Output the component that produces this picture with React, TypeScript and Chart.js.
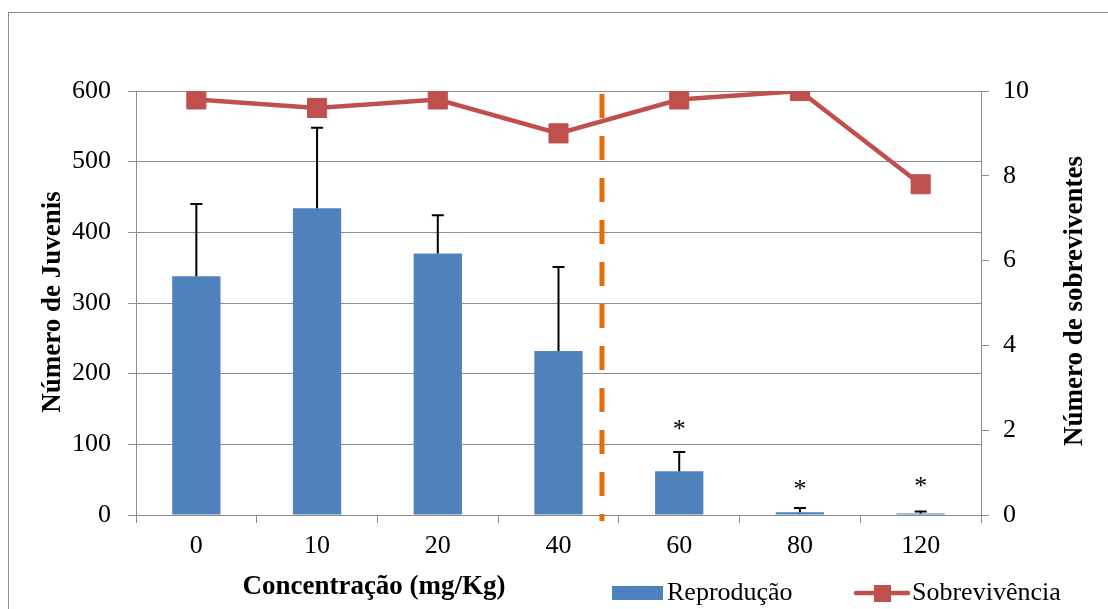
import { useEffect, useRef } from 'react';
import { Chart, registerables } from 'chart.js';

Chart.register(...registerables);

// Concentration groups (mg/Kg)
const categories = ['0', '10', '20', '40', '60', '80', '120'];
// Mean number of juveniles per group
const reproducao = [338, 434, 370, 232, 62, 4, 2];
// Upper error (standard deviation) for the juveniles
const reproducaoErro = [102, 114, 54, 119, 27, 6, 3];
// Number of surviving adults per group
const sobrevivencia = [9.8, 9.6, 9.8, 9.0, 9.8, 10, 7.8];
// Significance markers and the juvenile level of each marker's baseline
const significancia = ['', '', '', '', '*', '*', '*'];
const significanciaNivel = [0, 0, 0, 0, 110, 25, 30];
// Threshold line position, in category units
const limiteCategoria = 3.36;

const leftTicks = [0, 100, 200, 300, 400, 500, 600];
const rightTicks = [0, 2, 4, 6, 8, 10];

const FONT = '"Liberation Serif", "Times New Roman", serif';
const BLUE = '#4F81BD';
const RED = '#C0504D';
const ORANGE = '#E46C0A';
const GRID = '#8C8C8C';

const decorations = {
  id: 'decorations',
  beforeDatasetsDraw(chart: any) {
    const { ctx, chartArea, scales } = chart;
    const x = scales.x;
    const i0 = Math.floor(limiteCategoria);
    const p0 = x.getPixelForValue(i0);
    const p1 = x.getPixelForValue(i0 + 1);
    const px = p0 + (limiteCategoria - i0) * (p1 - p0);
    ctx.save();
    ctx.strokeStyle = ORANGE;
    ctx.lineWidth = 5;
    ctx.setLineDash([24, 18]);
    ctx.beginPath();
    ctx.moveTo(px, chartArea.top + 3);
    ctx.lineTo(px, chartArea.bottom + 6);
    ctx.stroke();
    ctx.restore();
  },
  afterDatasetDraw(chart: any, args: any) {
    if (args.index !== 0) return;
    const { ctx, scales } = chart;
    const y = scales.y;
    const meta = chart.getDatasetMeta(0);
    ctx.save();
    ctx.strokeStyle = '#000';
    ctx.lineWidth = 2;
    meta.data.forEach((bar: any, i: number) => {
      const top = y.getPixelForValue(reproducao[i] + reproducaoErro[i]);
      const base = y.getPixelForValue(reproducao[i]);
      ctx.beginPath();
      ctx.moveTo(bar.x, base);
      ctx.lineTo(bar.x, top);
      ctx.moveTo(bar.x - 6, top);
      ctx.lineTo(bar.x + 6, top);
      ctx.stroke();
    });
    ctx.restore();
  },
  afterDraw(chart: any) {
    const { ctx, scales } = chart;
    const x = scales.x;
    const y = scales.y;
    ctx.save();

    // significance asterisks
    ctx.fillStyle = '#000';
    ctx.font = `26px ${FONT}`;
    ctx.textAlign = 'center';
    ctx.textBaseline = 'alphabetic';
    significancia.forEach((s, i) => {
      if (!s) return;
      ctx.fillText(s, x.getPixelForValue(i), y.getPixelForValue(significanciaNivel[i]));
    });

    // axis titles
    ctx.textBaseline = 'middle';
    ctx.font = `bold 27px ${FONT}`;
    ctx.fillText('Concentração (mg/Kg)', 374, 587);

    ctx.save();
    ctx.translate(53, 302);
    ctx.rotate(-Math.PI / 2);
    ctx.fillText('Número de Juvenis', 0, 0);
    ctx.restore();

    ctx.save();
    ctx.translate(1075, 301);
    ctx.rotate(-Math.PI / 2);
    ctx.fillText('Número de sobreviventes', 0, 0);
    ctx.restore();

    // legend
    ctx.fillStyle = BLUE;
    ctx.fillRect(612, 586, 51, 14);
    ctx.fillStyle = '#000';
    ctx.font = `26px ${FONT}`;
    ctx.textAlign = 'left';
    ctx.fillText('Reprodução', 667, 593);

    ctx.strokeStyle = RED;
    ctx.lineWidth = 4.5;
    ctx.lineCap = 'round';
    ctx.beginPath();
    ctx.moveTo(856, 593);
    ctx.lineTo(908, 593);
    ctx.stroke();
    ctx.fillStyle = RED;
    ctx.fillRect(874, 585, 17, 17);
    ctx.fillStyle = '#000';
    ctx.fillText('Sobrevivência', 912, 593);

    ctx.restore();
  },
};

export default function App() {
  const canvasRef = useRef<HTMLCanvasElement | null>(null);

  useEffect(() => {
    if (!canvasRef.current) return;
    const chart = new Chart(canvasRef.current, {
      type: 'bar',
      data: {
        labels: categories,
        datasets: [
          {
            type: 'bar',
            label: 'Reprodução',
            data: reproducao,
            backgroundColor: BLUE,
            borderWidth: 0,
            barPercentage: 0.4,
            categoryPercentage: 1,
            yAxisID: 'y',
            order: 1,
          },
          {
            type: 'line',
            label: 'Sobrevivência',
            data: sobrevivencia,
            borderColor: RED,
            borderWidth: 4.5,
            backgroundColor: RED,
            pointStyle: 'rect',
            pointRadius: 13.5,
            pointBackgroundColor: RED,
            pointBorderColor: RED,
            pointBorderWidth: 1,
            tension: 0,
            yAxisID: 'y1',
            order: 0,
          },
        ],
      },
      options: {
        responsive: false,
        animation: false,
        devicePixelRatio: 1,
        layout: { padding: { top: 91, left: 0, right: 0, bottom: 0 } },
        plugins: {
          legend: { display: false },
          tooltip: { enabled: false },
          title: { display: false },
        },
        scales: {
          x: {
            type: 'category',
            offset: true,
            grid: {
              offset: true,
              drawOnChartArea: false,
              drawTicks: true,
              tickLength: 8,
              color: GRID,
            },
            border: { color: GRID, width: 1 },
            ticks: {
              color: '#000',
              font: { family: FONT, size: 26 },
              padding: 8,
              maxRotation: 0,
            },
            afterFit: (s: any) => {
              s.height = 94;
            },
          },
          y: {
            position: 'left',
            min: 0,
            max: 600,
            afterBuildTicks: (s: any) => {
              s.ticks = leftTicks.map((v) => ({ value: v }));
            },
            grid: { color: GRID, tickLength: 8, lineWidth: 1 },
            border: { color: GRID, width: 1 },
            ticks: {
              color: '#000',
              font: { family: FONT, size: 26 },
              padding: 17,
            },
            afterFit: (s: any) => {
              s.width = 136;
            },
          },
          y1: {
            position: 'right',
            min: 0,
            max: 10,
            afterBuildTicks: (s: any) => {
              s.ticks = rightTicks.map((v) => ({ value: v }));
            },
            grid: { drawOnChartArea: false, color: GRID, tickLength: 8 },
            border: { color: GRID, width: 1 },
            ticks: {
              color: '#000',
              font: { family: FONT, size: 26 },
              padding: 14,
            },
            afterFit: (s: any) => {
              s.width = 127;
            },
          },
        },
      },
      plugins: [decorations],
    });
    return () => chart.destroy();
  }, []);

  return (
    <div
      style={{
        position: 'fixed',
        left: 0,
        top: 0,
        width: 1108,
        height: 609,
        overflow: 'hidden',
        background: '#fff',
      }}
    >
      <div
        style={{
          position: 'absolute',
          left: 8,
          top: 12,
          width: 1120,
          height: 620,
          border: '1px solid #8C8C8C',
          boxSizing: 'border-box',
        }}
      />
      <canvas
        ref={canvasRef}
        width={1108}
        height={609}
        style={{ position: 'absolute', left: 0, top: 0 }}
      />
    </div>
  );
}
